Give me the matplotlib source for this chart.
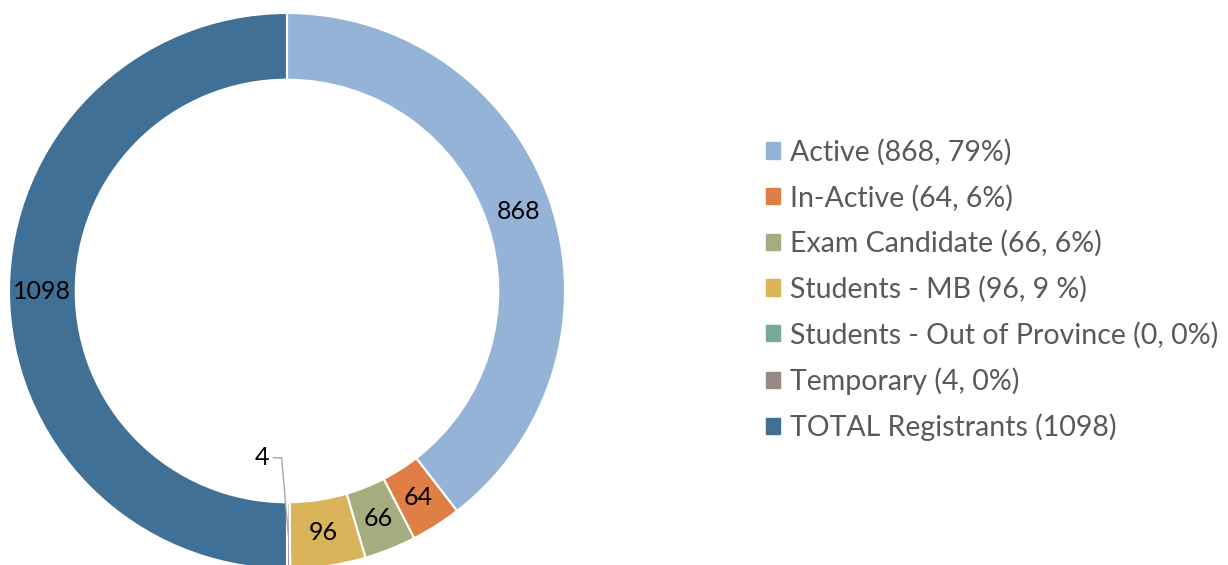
import matplotlib.pyplot as plt
import numpy as np

# data
labels = ["Active", "In-Active", "Exam Candidate", "Students - MB",
          "Students - Out of Province", "Temporary", "TOTAL Registrants"]
values = [868, 64, 66, 96, 0, 4, 1098]
legend_text = ["Active (868, 79%)", "In-Active (64, 6%)", "Exam Candidate (66, 6%)",
               "Students - MB (96, 9 %)", "Students - Out of Province (0, 0%)",
               "Temporary (4, 0%)", "TOTAL Registrants (1098)"]
colors = ["#95B3D7", "#E07F45", "#A5AD80", "#D9B45B", "#7AA89A", "#968A87", "#417096"]

plt.rcParams['font.family'] = ['Lato', 'DejaVu Sans']

W, H = 1228, 565
fig = plt.figure(figsize=(W / 100, H / 100), dpi=100)

# pie axes placed in pixels: center (287, 291), radius 278
cx, cy, R = 287, 291, 278
ax = fig.add_axes([(cx - R) / W, (H - cy - R) / H, 2 * R / W, 2 * R / H])

wedges, _ = ax.pie(values, colors=colors, startangle=90, counterclock=False,
                   radius=1.0, wedgeprops=dict(width=0.24, edgecolor="white", linewidth=1.5))
ax.set_xlim(-1, 1)
ax.set_ylim(-1, 1)
ax.set_aspect("auto")
ax.axis("off")

# data labels in the middle of each ring segment
total = sum(values)
start = 90.0
for v, w in zip(values, wedges):
    span = v / total * 360
    mid = np.deg2rad(start - span / 2)
    start -= span
    if v == 0:
        continue
    r = 0.88
    x, y = r * np.cos(mid), r * np.sin(mid)
    if v < 10:
        # small slice: label pulled inside with a leader line
        ax.annotate(str(v), xy=(x, y), xytext=(-0.09, -0.6),
                    ha="center", va="center", fontsize=18, color="black",
                    arrowprops=dict(arrowstyle="-", color="#A6A6A6", lw=1,
                                    connectionstyle="angle,angleA=0,angleB=95,rad=0",
                                    shrinkA=1, shrinkB=0))
    else:
        ax.text(x, y, str(v), ha="center", va="center", fontsize=18, color="black")

# legend
handles = [plt.Rectangle((0, 0), 1, 1, color=c) for c in colors]
fig.legend(handles, legend_text, loc="center left", bbox_to_anchor=(766 / W, 1 - 290 / H),
           frameon=False, fontsize=20.5, labelcolor="#595959", handlelength=0.5,
           handleheight=0.5, handletextpad=0.35, labelspacing=0.66,
           borderpad=0, borderaxespad=0)

fig.savefig("out.png", dpi=100)
